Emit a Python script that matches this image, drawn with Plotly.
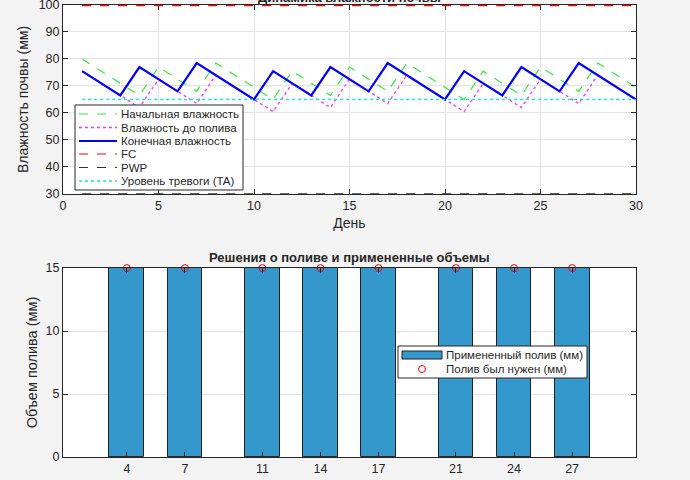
import plotly.graph_objects as go
from plotly.subplots import make_subplots

# day-by-day soil moisture (mm)
days = list(range(1, 31))
initial_moisture = [80.0, 75.5, 71.0, 66.5, 77.0, 72.5, 68.0, 78.5, 74.0, 69.5,
                    65.0, 75.5, 71.0, 66.5, 77.0, 72.5, 68.0, 78.5, 74.0, 69.5,
                    65.0, 75.5, 71.0, 66.5, 77.0, 72.5, 68.0, 78.5, 74.0, 69.5]
moisture_before = [75.5, 71.0, 66.5, 62.0, 72.5, 68.0, 63.5, 74.0, 69.5, 65.0,
                   60.5, 71.0, 66.5, 62.0, 72.5, 68.0, 63.5, 74.0, 69.5, 65.0,
                   60.5, 71.0, 66.5, 62.0, 72.5, 68.0, 63.5, 74.0, 69.5, 65.0]
final_moisture = [75.5, 71.0, 66.5, 77.0, 72.5, 68.0, 78.5, 74.0, 69.5, 65.0,
                  75.5, 71.0, 66.5, 77.0, 72.5, 68.0, 78.5, 74.0, 69.5, 65.0,
                  75.5, 71.0, 66.5, 77.0, 72.5, 68.0, 78.5, 74.0, 69.5, 65.0]
FC = 100
PWP = 30
TA = 65

# irrigation events
irr_days = [4, 7, 11, 14, 17, 21, 24, 27]
irr_applied = [15, 15, 15, 15, 15, 15, 15, 15]
irr_needed = [15, 15, 15, 15, 15, 15, 15, 15]

FONT = "Liberation Sans"
TXT = "#262626"
GRID = "#e3e3e3"
W, H = 690, 480
M_L, M_R, M_T, M_B = 63, 54, 5, 23

GREEN = "#33ee33"
MAGENTA = "#ff33ff"
BLUE = "#0000ff"
RED = "#ff0000"
DARK = "#333333"
CYAN = "#00eeee"
BAR = "#3498cc"


def paper(px, py):
    """pixel position in the 690x480 picture -> paper coordinates"""
    return ((px - M_L) / (W - M_L - M_R), (H - M_B - py) / (H - M_T - M_B))


def add_legend(fig, box, entries, text_x):
    # box: (x0, y0, x1, y1) in pixels; entries: (kind, style, label, y)
    x0, y0 = paper(box[0], box[1])
    x1, y1 = paper(box[2], box[3])
    fig.add_shape(type="rect", xref="paper", yref="paper", x0=x0, y0=y0, x1=x1, y1=y1,
                  fillcolor="white", line=dict(color=TXT, width=1), layer="above")
    for kind, style, label, y in entries:
        if kind == "line":
            a = paper(box[0] + 4, y)
            b = paper(text_x - 3, y)
            fig.add_shape(type="line", xref="paper", yref="paper",
                          x0=a[0], y0=a[1], x1=b[0], y1=b[1], line=style, layer="above")
        elif kind == "bar":
            a = paper(box[0] + 4, y - 4)
            b = paper(text_x - 3, y + 4)
            fig.add_shape(type="rect", xref="paper", yref="paper",
                          x0=a[0], y0=a[1], x1=b[0], y1=b[1],
                          fillcolor=style, line=dict(color="#222222", width=1),
                          layer="above")
        else:
            cx = (box[0] + 4 + text_x - 3) / 2
            a = paper(cx - 3.5, y - 3.5)
            b = paper(cx + 3.5, y + 3.5)
            fig.add_shape(type="circle", xref="paper", yref="paper",
                          x0=a[0], y0=a[1], x1=b[0], y1=b[1],
                          line=dict(color=style, width=1), layer="above")
        t = paper(text_x, y)
        fig.add_annotation(text=label, xref="paper", yref="paper", x=t[0], y=t[1],
                           xanchor="left", yanchor="middle", showarrow=False,
                           borderpad=0, font=dict(family=FONT, size=11.5, color=TXT))


fig = make_subplots(rows=2, cols=1)

fig.add_trace(go.Scatter(x=days, y=initial_moisture, mode="lines",
                         line=dict(color=GREEN, width=1.2, dash="dash")), row=1, col=1)
fig.add_trace(go.Scatter(x=days, y=moisture_before, mode="lines",
                         line=dict(color=MAGENTA, width=1.3, dash="dot")), row=1, col=1)
fig.add_trace(go.Scatter(x=days, y=final_moisture, mode="lines",
                         line=dict(color=BLUE, width=2.2)), row=1, col=1)
fig.add_trace(go.Scatter(x=[days[0], days[-1]], y=[FC, FC], mode="lines",
                         line=dict(color=RED, width=2.4, dash="dash")), row=1, col=1)
fig.add_trace(go.Scatter(x=[days[0], days[-1]], y=[PWP, PWP], mode="lines",
                         line=dict(color=DARK, width=1.2, dash="dash")), row=1, col=1)
fig.add_trace(go.Scatter(x=[days[0], days[-1]], y=[TA, TA], mode="lines",
                         line=dict(color=CYAN, width=1.3, dash="dot")), row=1, col=1)

fig.add_trace(go.Bar(x=irr_days, y=irr_applied, width=1.8,
                     marker=dict(color=BAR, line=dict(color="#222222", width=1))),
              row=2, col=1)
fig.add_trace(go.Scatter(x=irr_days, y=irr_needed, mode="markers",
                         marker=dict(symbol="circle-open", color=RED, size=7,
                                     line=dict(width=1)),
                         cliponaxis=False), row=2, col=1)

axis_common = dict(showline=True, linecolor=TXT, linewidth=1, mirror="allticks",
                   ticks="inside", ticklen=5, tickcolor=TXT, automargin=False,
                   ticklabeloverflow="allow",
                   tickfont=dict(family=FONT, size=12.5, color=TXT),
                   gridcolor=GRID, zeroline=False)

fig.update_xaxes(axis_common)
fig.update_yaxes(axis_common)

fig.update_xaxes(range=[0, 30], tickvals=[0, 5, 10, 15, 20, 25, 30], showgrid=True,
                 layer="below traces",
                 title=dict(text="День", standoff=6,
                            font=dict(family=FONT, size=14, color=TXT)),
                 row=1, col=1)
fig.update_yaxes(range=[30, 100], tickvals=[30, 40, 50, 60, 70, 80, 90, 100],
                 showgrid=True, domain=[0.582, 1],
                 title=dict(text="Влажность почвы (мм)", standoff=6,
                            font=dict(family=FONT, size=14, color=TXT)),
                 row=1, col=1)
fig.update_xaxes(range=[0.7, 30.3], tickvals=irr_days, showgrid=False, row=2, col=1)
fig.update_yaxes(range=[0, 15], tickvals=[0, 5, 10, 15], showgrid=True,
                 domain=[0, 0.418],
                 title=dict(text="Объем полива (мм)", standoff=4,
                            font=dict(family=FONT, size=14.5, color=TXT)),
                 row=2, col=1)

fig.add_annotation(text="<b>Динамика влажности почвы</b>", xref="paper", yref="paper",
                   x=0.5, y=1, yanchor="bottom", showarrow=False, yshift=-2,
                   font=dict(family=FONT, size=13, color=TXT))
fig.add_annotation(text="<b>Решения о поливе и примененные объемы</b>",
                   xref="paper", yref="paper", x=0.5, y=0.418, yanchor="bottom",
                   showarrow=False, yshift=1,
                   font=dict(family=FONT, size=13, color=TXT))

add_legend(fig, (75, 105, 243, 190), [
    ("line", dict(color=GREEN, width=1.2, dash="dash"), "Начальная влажность", 114),
    ("line", dict(color=MAGENTA, width=1.3, dash="dot"), "Влажность до полива", 127.5),
    ("line", dict(color=BLUE, width=2.2), "Конечная влажность", 141),
    ("line", dict(color=RED, width=1.2, dash="dash"), "FC", 154),
    ("line", dict(color=DARK, width=1.2, dash="dash"), "PWP", 167.5),
    ("line", dict(color=CYAN, width=1.3, dash="dot"), "Уровень тревоги (TA)", 181),
], text_x=120)

add_legend(fig, (398, 346, 587, 378), [
    ("bar", BAR, "Примененный полив (мм)", 355),
    ("circle", RED, "Полив был нужен (мм)", 369),
], text_x=445)

fig.update_layout(
    width=W,
    height=H,
    paper_bgcolor="#f3f3f3",
    plot_bgcolor="white",
    margin=dict(l=M_L, r=M_R, t=M_T, b=M_B),
    bargap=0,
    showlegend=False,
)

# page body has an 8px default margin; drop it so the figure sits at the corner
fig.write_html("out.html", config=dict(displayModeBar=False),
               post_script="document.body.style.margin = '0';")
